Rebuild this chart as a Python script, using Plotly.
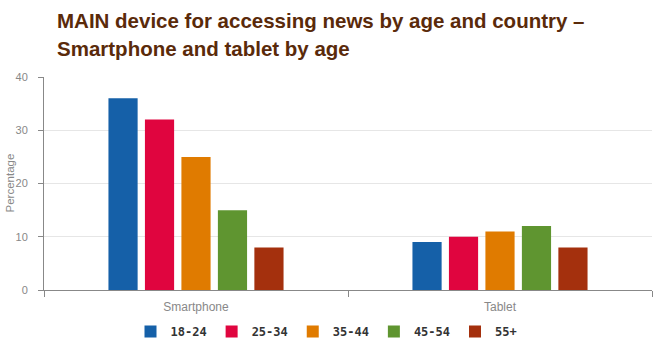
import plotly.graph_objects as go

categories = ["Smartphone", "Tablet"]
age_groups = ["18-24", "25-34", "35-44", "45-54", "55+"]
values = {
    "18-24": [36, 9],
    "25-34": [32, 10],
    "35-44": [25, 11],
    "45-54": [15, 12],
    "55+": [8, 8],
}
colors = ["#1560a8", "#e0053f", "#e07b00", "#5f9530", "#a4300d"]
y_ticks = [0, 10, 20, 30, 40]
title_lines = ["MAIN device for accessing news by age and country –",
               "Smartphone and tablet by age"]

SANS = "Liberation Sans, Arial, sans-serif"

fig = go.Figure()
for g, c in zip(age_groups, colors):
    fig.add_trace(go.Bar(x=categories, y=values[g], name=g, marker_color=c,
                         marker_line_width=0))

for i, line in enumerate(title_lines):
    fig.add_annotation(text=line, xref="paper", yref="paper",
                       x=0, xshift=11, xanchor="left",
                       y=1, yshift=77 - (20 + 28 * i), yanchor="middle",
                       showarrow=False,
                       font=dict(family=SANS, size=20.5, color="#5a2a0a", weight="bold"))

fig.add_annotation(text="Percentage", xref="paper", yref="paper",
                   x=0, xshift=-35, xanchor="center", y=0.5, yanchor="middle",
                   textangle=-90, showarrow=False,
                   font=dict(family=SANS, size=11.5, color="#888888"))

fig.update_layout(
    width=653, height=352,
    margin=dict(l=44, r=1, t=77, b=62),
    paper_bgcolor="white", plot_bgcolor="white",
    barmode="group", bargap=0.4, bargroupgap=0.2,
    font=dict(family=SANS, color="#888888"),
    legend=dict(orientation="h", xref="container", x=0.5, xanchor="center",
                yref="container", y=1 - 317/352, yanchor="top",
                font=dict(family="DejaVu Sans Mono, monospace", size=12, color="#333333",
                          weight="bold"),
                itemwidth=30, traceorder="normal"),
    showlegend=True,
)
fig.update_xaxes(showline=True, linecolor="#888888", linewidth=1,
                 ticks="outside", tickson="boundaries", ticklen=6, tickcolor="#888888",
                 ticklabelstandoff=6,
                 tickfont=dict(size=12, color="#888888"))
fig.update_yaxes(range=[0, 40], tickvals=y_ticks, showline=True, linecolor="#888888",
                 ticks="outside", ticklen=5, tickcolor="#888888",
                 ticklabelstandoff=8,
                 gridcolor="#e6e6e6", zeroline=False,
                 tickfont=dict(size=11, color="#888888"))

fig.write_html("out.html")
